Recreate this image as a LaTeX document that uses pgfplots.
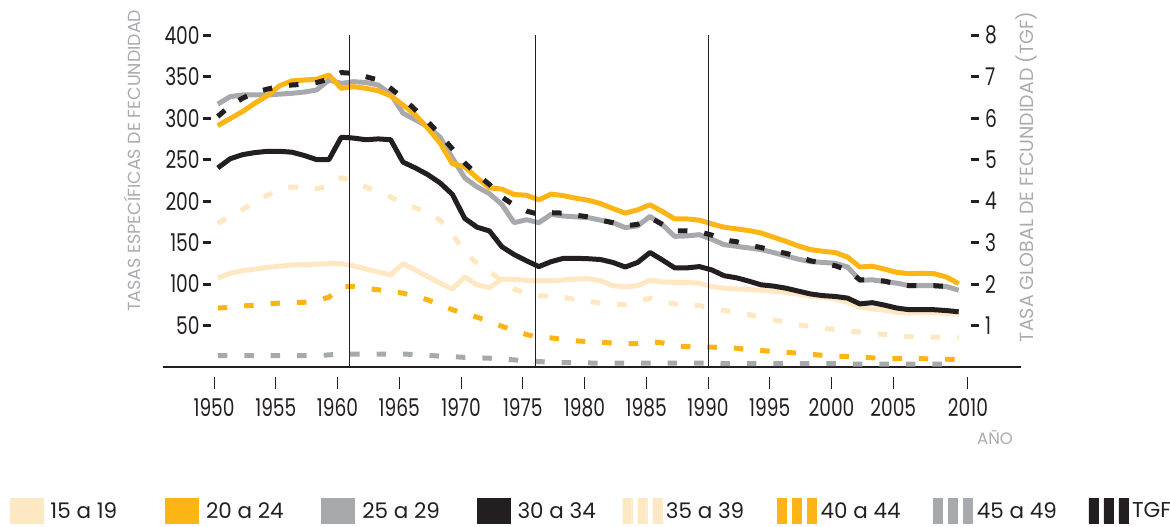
\documentclass[border=0pt]{standalone}
\usepackage{fontspec}
\setmainfont{Poppins}
\newfontfamily\cfont[FakeStretch=0.76]{Poppins}
\usepackage{pgfplots}
\usepackage{pgfplotstable}
\pgfplotsset{compat=1.18}
\definecolor{cLight}{HTML}{FDE8C3}
\definecolor{cYel}{HTML}{FDB515}
\definecolor{cGrey}{HTML}{A7A9AC}
\definecolor{cBlk}{HTML}{231F20}
\definecolor{cLab}{HTML}{A9ABAE}
\pgfplotstableread{
yr s15 s20 s25 s30 s35 s40 s45 tgf
1950 107 291 317 240 173 71 13.7 6.04
1951 113 299.5 326 251 182 72 13.7 6.30
1952 116 308 328 256 190 73.5 13.7 6.48
1953 118 318 328 258.5 199 74.5 13.7 6.62
1954 120 327 328 260 207 76 13.7 6.70
1955 121.5 339 329 260 213 77 13.7 6.76
1956 123 345 330 259 217 77.5 13.7 6.80
1957 123.5 346 331.5 255 216 78 13.7 6.82
1958 124 347 334 250 215 80 13.7 6.86
1959 124.5 352 346 250 218 84 14.5 6.94
1960 124.5 336 342 277 228 97 15.5 7.10
1961 122 338 344 276 225 97 15.5 7.08
1962 118 336 343 274 217 95 15.5 7.00
1963 114.5 333 340 275 211 93 15.5 6.92
1964 111 327 329 274 205 91 15.5 6.72
1965 124.5 316 306 247 198 89 15.5 6.48
1966 117 304 298 240 192 85 15 6.20
1967 109 288 290 232 186 81 14 5.92
1968 101 270 277 222 177 75 13 5.60
1969 94 245 252 208 160 69 12.5 5.26
1970 108.5 241.5 228 179 138 64 11.5 4.92
1971 99 228 217 168.5 125 60 11 4.64
1972 95.5 216 209 164 115 55 10.5 4.40
1973 106 214.5 196 145 104 49 9.5 4.10
1974 105.5 208 174 135.5 94 44 8.5 3.90
1975 104.5 207 177.5 128 88 39 7.5 3.76
1976 104 201.5 174 121 86 36 6.5 3.68
1977 104 208.5 184 127 85 35 5.6 3.72
1978 105 206.5 182 131 84 33 5.3 3.71
1979 106 203.5 181 131 81 31.5 5 3.66
1980 106.5 201 180 130.5 79 30.5 4.8 3.62
1981 104 197 177 129.5 77 29.5 4.5 3.54
1982 98 191 174 126 76 29 4.5 3.48
1983 96.5 185.5 168 120.5 75 28 4.5 3.40
1984 98 189.5 170 126 78 28 4.5 3.44
1985 104.5 195.5 181.5 138 83 30.5 4.5 3.60
1986 102.5 187.5 171.5 129 79 29 4.5 3.44
1987 102 178.5 157.5 119.5 76 25 4.5 3.28
1988 102 178.5 158 119.5 74 24.5 4.5 3.28
1989 101 177 159.5 121 74 24 4.5 3.26
1990 97 172.5 154 117 71 24 4.5 3.18
1991 95 168.5 147.5 110 68 23 4 3.06
1992 94 166.5 145.5 107.5 66 22.5 4 3.02
1993 93.5 164.5 143.5 103.5 63 21 4 2.94
1994 92.5 161.5 141.5 99 60 19.7 4 2.88
1995 91.5 156.5 138 97.5 57 18.7 4 2.80
1996 90 151.5 134 95 54 17.7 4 2.74
1997 88 146 130 91.5 51 16.5 4 2.66
1998 85 141.5 127 88 49 15.3 4 2.56
1999 84 139.5 126 86 47 14 4 2.50
2000 82 138 125 85 45 13 4 2.44
2001 78 132.5 120.5 83 43.5 12.5 3.5 2.34
2002 72 120.5 104.5 76 42 12 3.5 2.10
2003 70 121.5 105 77.5 40.5 11 3.5 2.10
2004 68.5 118 103 74.5 39 10 3.5 2.07
2005 66 114 101 71 37.5 10 3.5 2.00
2006 65 112.5 98 69 36.5 10 3.5 1.96
2007 65.5 113 98 69 36 10 3.5 1.96
2008 65.5 112.5 98 69 36 9.5 3.5 1.96
2009 64.5 108.5 97 68 36 9.3 3.5 1.94
2010 63.5 100.5 92.5 66.5 35 9 3.5 1.84
}\data
\tikzset{
  tickfont/.style={font=\cfont\fontsize{24.5}{24.5}\selectfont, text=cBlk},
  dashed5/.style={line width=5pt, dash pattern=on 9.5pt off 17pt},
  solid5/.style={line width=5pt, line join=round},
}
\pgfplotsset{
  common/.style={width=761pt, height=332pt, scale only axis,
    xmin=1949.733, xmax=2011.30},
  xticks/.style={xtick={1950,1955,1960,1965,1970,1975,1980,1985,1990,1995,2000,2005,2011.05}},
}
\newcommand{\tk}{\textcolor{cBlk}{\rule{1pt}{12pt}}}
\begin{document}
\begin{tikzpicture}
\begin{axis}[common, ymin=0, ymax=400, clip=false,
  hide x axis, axis y line*=left, axis line style={draw=none},
  ytick={50,100,150,200,250,300,350,400},
  yticklabels={50,100,150,200,250,300,350,400},
  tick align=outside, major tick length=8pt,
  tick style={line width=3pt, color=cBlk},
  yticklabel style={tickfont, anchor=east, inner sep=0pt, xshift=-3pt},
  ylabel={TASAS ESPECÍFICAS DE FECUNDIDAD},
  ylabel style={at={(axis description cs:-0.1025,0.6214)}, anchor=center,
    font=\fontsize{17.5}{17.5}\selectfont, text=cLab, inner sep=0pt},
  legend columns=8, legend cell align=left,
  legend style={at={(axis description cs:-0.2647,-0.4343)}, anchor=west,
    draw=none, fill=none, inner sep=0pt, outer sep=0pt,
    column sep=0pt, nodes={inner sep=0pt, outer sep=0pt},
    font=\fontsize{21.5}{21.5}\selectfont, text=cBlk},
]
\path (axis description cs:-0.27727,-0.48102) rectangle (axis description cs:1.26018,1.10633);
\draw[cBlk, line width=2.8pt] (axis cs:1945.85,0) -- (axis cs:2015.35,0);
\addplot[forget plot, cGrey, dashed5] table[x expr=\thisrow{yr}+0.3, y=s45]{\data};
\addplot[forget plot, cYel, dashed5] table[x expr=\thisrow{yr}+0.3, y=s40]{\data};
\addplot[forget plot, cLight, dashed5] table[x expr=\thisrow{yr}+0.3, y=s35]{\data};
\addplot[forget plot, cLight, solid5] table[x expr=\thisrow{yr}+0.3, y=s15]{\data};
\addplot[forget plot, cBlk, solid5] table[x expr=\thisrow{yr}+0.3, y=s30]{\data};
\addplot[forget plot, cGrey, solid5] table[x expr=\thisrow{yr}+0.3, y=s25]{\data};
\addplot[forget plot, cYel, solid5] table[x expr=\thisrow{yr}+0.3, y=s20]{\data};
\addplot[forget plot, cBlk, line width=1pt] coordinates {(1961,0) (1961,400)};
\addplot[forget plot, cBlk, line width=1pt] coordinates {(1976,0) (1976,400)};
\addplot[forget plot, cBlk, line width=1pt] coordinates {(1990,0) (1990,400)};
\addlegendimage{legend image code/.code={\fill[cLight] (0pt,-12.5pt) rectangle (33pt,12.5pt); \path (40.5pt,0pt);}}
\addlegendentry{\makebox[114.9pt][l]{15 a 19}}
\addlegendimage{legend image code/.code={\fill[cYel] (0pt,-12.5pt) rectangle (33pt,12.5pt); \path (40.5pt,0pt);}}
\addlegendentry{\makebox[115.5pt][l]{20 a 24}}
\addlegendimage{legend image code/.code={\fill[cGrey] (0pt,-12.5pt) rectangle (33pt,12.5pt); \path (40.5pt,0pt);}}
\addlegendentry{\makebox[114.5pt][l]{25 a 29}}
\addlegendimage{legend image code/.code={\fill[cBlk] (0pt,-12.5pt) rectangle (33pt,12.5pt); \path (40.5pt,0pt);}}
\addlegendentry{\makebox[105.1pt][l]{30 a 34}}
\addlegendimage{legend image code/.code={\fill[cLight] (0pt,-12.5pt) rectangle (9pt,12.5pt) (15pt,-12.5pt) rectangle (24pt,12.5pt) (30pt,-12.5pt) rectangle (39pt,12.5pt); \path (43pt,0pt);}}
\addlegendentry{\makebox[111.4pt][l]{35 a 39}}
\addlegendimage{legend image code/.code={\fill[cYel] (0pt,-12.5pt) rectangle (9pt,12.5pt) (15pt,-12.5pt) rectangle (24pt,12.5pt) (30pt,-12.5pt) rectangle (39pt,12.5pt); \path (43pt,0pt);}}
\addlegendentry{\makebox[113pt][l]{40 a 44}}
\addlegendimage{legend image code/.code={\fill[cGrey] (0pt,-12.5pt) rectangle (9pt,12.5pt) (15pt,-12.5pt) rectangle (24pt,12.5pt) (30pt,-12.5pt) rectangle (39pt,12.5pt); \path (43pt,0pt);}}
\addlegendentry{\makebox[112pt][l]{45 a 49}}
\addlegendimage{legend image code/.code={\fill[cBlk] (0pt,-12.5pt) rectangle (9pt,12.5pt) (15pt,-12.5pt) rectangle (24pt,12.5pt) (30pt,-12.5pt) rectangle (39pt,12.5pt); \path (43pt,0pt);}}
\addlegendentry{\makebox[38pt][l]{TGF}}
\end{axis}
\begin{axis}[common, ymin=0, ymax=8,
  hide x axis, axis y line*=right, axis line style={draw=none},
  ytick={1,2,3,4,5,6,7,8},
  yticklabels={1,2,3,4,5,6,7,8},
  tick align=outside, major tick length=8pt,
  tick style={line width=3pt, color=cBlk},
  yticklabel style={tickfont, anchor=west, inner sep=0pt, xshift=6pt},
  ylabel={TASA GLOBAL DE FECUNDIDAD (TGF)},
  ylabel style={at={(axis description cs:1.0723,0.5732)}, anchor=center,
    font=\fontsize{19}{19}\selectfont, text=cLab, inner sep=0pt},
]
\addplot[cBlk, dashed5] table[x expr=\thisrow{yr}+0.3, y=tgf]{\data};
\end{axis}
% short tick marks below the axis line
\begin{axis}[common, ymin=0, ymax=400, at={(0pt,-10pt)},
  axis y line=none, ytick=\empty, axis x line*=bottom,
  x axis line style={draw=none}, xticks,
  xticklabels={\tk,\tk,\tk,\tk,\tk,\tk,\tk,\tk,\tk,\tk,\tk,\tk,\tk},
  major tick length=0pt, tick style={draw=none},
  xticklabel style={anchor=north, inner sep=0pt},
]
\addplot[draw=none, forget plot] coordinates {(1950,200) (2000,200)};
\end{axis}
% year labels
\begin{axis}[common, ymin=0, ymax=400,
  axis y line=none, ytick=\empty, axis x line*=bottom,
  x axis line style={draw=none}, xticks,
  xticklabels={1950,1955,1960,1965,1970,1975,1980,1985,1990,1995,2000,2005,2010},
  major tick length=0pt, tick style={draw=none},
  xticklabel style={tickfont, anchor=base, inner sep=0pt, yshift=-49.7pt},
  xlabel={AÑO},
  xlabel style={at={(axis description cs:1.0315,-0.213)}, anchor=center,
    font=\fontsize{16.5}{16.5}\selectfont, text=cLab, inner sep=0pt},
]
\addplot[draw=none, forget plot] coordinates {(1950,200) (2000,200)};
\end{axis}
\end{tikzpicture}
\end{document}
